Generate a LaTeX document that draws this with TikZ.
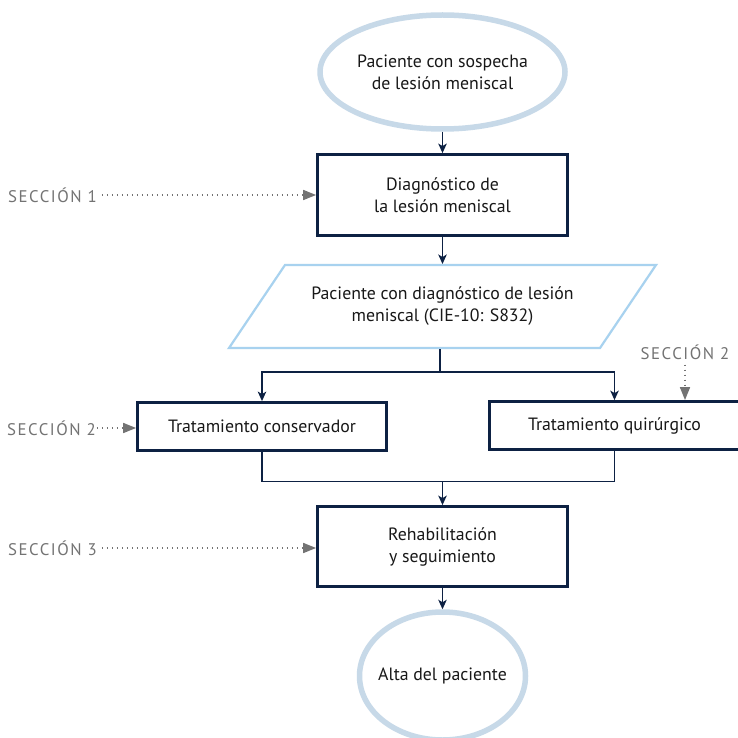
\documentclass[tikz,border=0pt]{standalone}
\usepackage{fontspec}
\setmainfont{PT Sans}
\newfontfamily\sectionfont{PT Sans}[LetterSpace=9]
\usetikzlibrary{arrows.meta,shapes.geometric}
\definecolor{navy}{HTML}{0D2143}
\definecolor{terminalblue}{HTML}{C7D9E8}
\definecolor{databorder}{HTML}{A8D2EF}
\definecolor{notegray}{HTML}{737373}
\definecolor{ink}{HTML}{181818}

\begin{document}
\begin{tikzpicture}[x=1pt,y=-1pt,
  every node/.style={text=ink,font=\fontsize{17.8}{22}\selectfont,align=center,inner sep=0pt},
  terminal/.style={ellipse,draw=terminalblue,line width=5.5pt,fill=white,inner xsep=-10pt},
  procbox/.style={rectangle,draw=navy,line width=2.8pt,fill=white},
  flow/.style={draw=navy,line width=1.3pt,-{Stealth[length=9.5pt,width=8.5pt,inset=2.5pt]}},
  joint/.style={draw=navy,line width=1.1pt},
  sectionlabel/.style={text=notegray,font=\sectionfont\fontsize{16.8}{17}\selectfont},
  pointer/.style={draw=notegray,line width=1.6pt,dash pattern=on 1.4pt off 3.6pt,-{Triangle[length=13pt,width=10pt]}},
]
\useasboundingbox (0,0) rectangle (737,738);
\fill[white] (0,0) rectangle (737,738);

% start / end terminals
\node[terminal,minimum width=245,minimum height=114] (start) at (442.5,72)
  {Paciente con sospecha\\de lesión meniscal};
\node[terminal,minimum width=166,minimum height=128] (end) at (442.5,676)
  {Alta del paciente};

% process boxes
\node[procbox,minimum width=250,minimum height=81] (diag) at (442.5,195)
  {Diagnóstico de\\la lesión meniscal};
\node[procbox,minimum width=249,minimum height=48] (cons) at (262,426.5)
  {Tratamiento conservador};
\node[procbox,minimum width=250,minimum height=48] (quir) at (614.5,425.5)
  {Tratamiento quirúrgico};
\node[procbox,minimum width=250,minimum height=80] (rehab) at (442.5,546.5)
  {Rehabilitación\\y seguimiento};

% data parallelogram
\draw[databorder,line width=2.2pt,fill=white]
  (285,265) -- (656,265) -- (600,348) -- (229,348) -- cycle;
\node (data) at (442.5,306.5)
  {Paciente con diagnóstico de lesión\\meniscal (CIE-10: S832)};
\coordinate (dtop) at (442.5,264);
\coordinate (dbot) at (440,349);
\coordinate (fork) at (440,372);
\coordinate (merge) at (442.5,481.5);

% main flow
\draw[flow] (start.south) -- (diag.north);
\draw[flow] (diag.south) -- (dtop);
\draw[joint] (dbot) -- (fork);
\draw[flow] (fork) -| (cons.north);
\draw[flow] (fork) -| (quir.north);
\draw[joint] (cons.south) |- (merge) -| (quir.south);
\draw[flow] (merge) -- (rehab.north);
\draw[flow] (rehab.south) -- (end.north);

% section references
\node[sectionlabel,anchor=west] (s1) at (8,195) {SECCIÓN 1};
\node[sectionlabel,anchor=west] (s2a) at (7,428) {SECCIÓN 2};
\node[sectionlabel] (s2b) at (685,352) {SECCIÓN 2};
\node[sectionlabel,anchor=west] (s3) at (8,548) {SECCIÓN 3};

\draw[pointer,shorten <=5pt] (s1.east) -- (s1.east -| diag.west);
\draw[pointer,shorten <=1pt] (s2a.east) -- (s2a.east -| cons.west);
\draw[pointer,shorten <=5pt] (s2b.south) -- (s2b.south |- quir.north);
\draw[pointer,shorten <=5pt] (s3.east) -- (s3.east -| rehab.west);
\end{tikzpicture}
\end{document}
